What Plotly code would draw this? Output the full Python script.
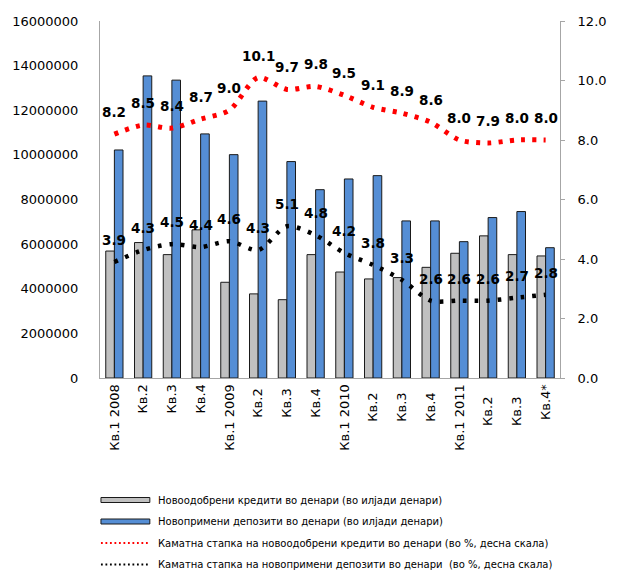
import plotly.graph_objects as go

# Quarterly categories
quarters = ["Кв.1 2008", "Кв.2", "Кв.3", "Кв.4",
            "Кв.1 2009", "Кв.2 ", "Кв.3 ", "Кв.4 ",
            "Кв.1 2010", "Кв.2  ", "Кв.3  ", "Кв.4  ",
            "Кв.1 2011", "Кв.2   ", "Кв.3   ", "Кв.4*"]

# Newly granted denar loans (thousands of denars)
loans = [5690000, 6070000, 5530000, 6640000, 4290000, 3770000, 3510000, 5530000,
         4750000, 4440000, 4500000, 4960000, 5590000, 6370000, 5530000, 5470000]

# Newly received denar deposits (thousands of denars)
deposits = [10220000, 13540000, 13350000, 10940000, 10010000, 12410000, 9700000, 8440000,
            8920000, 9070000, 7040000, 7040000, 6110000, 7190000, 7460000, 5840000]

# Interest rate on new denar loans (%, right scale)
loan_rate = [8.2, 8.5, 8.4, 8.7, 9.0, 10.1, 9.7, 9.8, 9.5, 9.1, 8.9, 8.6, 8.0, 7.9, 8.0, 8.0]

# Interest rate on new denar deposits (%, right scale)
deposit_rate = [3.9, 4.3, 4.5, 4.4, 4.6, 4.3, 5.1, 4.8, 4.2, 3.8, 3.3, 2.6, 2.6, 2.6, 2.7, 2.8]

legend_labels = [
    "Новоодобрени кредити во денари (во илјади денари)",
    "Новопримени депозити во денари (во илјади денари)",
    "Каматна стапка на новоодобрени кредити во денари (во %, десна скала)",
    "Каматна стапка на новопримени депозити во денари  (во %, десна скала)",
]

FONT = "DejaVu Sans"
GRAY = "#c0c0c0"
BLUE = "#558ed5"
W, H = 619, 571
L, R, T, B = 92, 47, 21, 193
PW, PH = W - L - R, H - T - B


def px(x):
    return (x - L) / PW


def py(y):
    return (H - B - y) / PH


fig = go.Figure()

fig.add_trace(go.Bar(x=quarters, y=loans, name=legend_labels[0],
                     marker=dict(color=GRAY, line=dict(color="#1a1a1a", width=1)),
                     showlegend=False))
fig.add_trace(go.Bar(x=quarters, y=deposits, name=legend_labels[1],
                     marker=dict(color=BLUE, line=dict(color="#1a1a1a", width=1)),
                     showlegend=False))
fig.add_trace(go.Scatter(x=quarters, y=loan_rate, yaxis="y2", mode="lines",
                         name=legend_labels[2],
                         line=dict(color="#ff0000", width=5, dash="4px,7.3px",
                                   shape="spline", smoothing=0.8),
                         showlegend=False))
fig.add_trace(go.Scatter(x=quarters, y=deposit_rate, yaxis="y2", mode="lines",
                         name=legend_labels[3],
                         line=dict(color="#000000", width=4.5, dash="3.6px,8px",
                                   shape="spline", smoothing=0.8),
                         showlegend=False))

annotations = []
for series in (loan_rate, deposit_rate):
    for q, v in zip(quarters, series):
        annotations.append(dict(x=q, y=v, xref="x", yref="y2", text=f"{v:.1f}",
                                showarrow=False, yshift=22,
                                font=dict(family=FONT, size=13.5, color="#000000",
                                          weight="bold")))

# Legend drawn below the plot
shapes = []
rows = [500, 521.5, 543, 564.5]
x0, x1 = 93, 144
for i, color in enumerate((GRAY, BLUE)):
    shapes.append(dict(type="rect", xref="paper", yref="paper",
                       x0=px(x0), x1=px(x1), y0=py(rows[i] + 2.5), y1=py(rows[i] - 2.5),
                       fillcolor=color, line=dict(color="#1a1a1a", width=1)))
for i, color in ((2, "#ff0000"), (3, "#000000")):
    shapes.append(dict(type="line", xref="paper", yref="paper",
                       x0=px(x0), x1=px(x1 - 1), y0=py(rows[i]), y1=py(rows[i]),
                       line=dict(color=color, width=1.8, dash="1.8px,2.7px")))
for i, label in enumerate(legend_labels):
    annotations.append(dict(x=px(150), y=py(rows[i]), xref="paper", yref="paper",
                            text=label, showarrow=False, xanchor="left", yanchor="middle",
                            font=dict(family=FONT, size=10, color="#000000")))

fig.update_layout(
    width=W, height=H,
    margin=dict(l=L, r=R, t=T, b=B, pad=0),
    paper_bgcolor="white", plot_bgcolor="white",
    barmode="group", bargap=0.4, bargroupgap=0,
    font=dict(family=FONT, size=13, color="#000000"),
    showlegend=False,
    xaxis=dict(type="category", tickangle=-90, showline=True, linecolor="#a6a6a6",
               linewidth=1, ticks="", showgrid=False, tickfont=dict(size=13),
               range=[-0.5, len(quarters) - 0.5]),
    yaxis=dict(range=[0, 16000000], dtick=2000000, tickformat="d", showline=True,
               linecolor="#a6a6a6", linewidth=1, ticks="", showgrid=False,
               zeroline=False, tickfont=dict(size=13), ticklabelstandoff=18),
    yaxis2=dict(range=[0, 12], dtick=2, tickformat=".1f", overlaying="y", side="right",
                showline=True, linecolor="#a6a6a6", linewidth=1, ticks="outside",
                ticklen=4, tickcolor="#a6a6a6", showgrid=False, zeroline=False,
                tickfont=dict(size=13), ticklabelstandoff=10),
    annotations=annotations,
    shapes=shapes,
)

fig.write_html("out.html")
